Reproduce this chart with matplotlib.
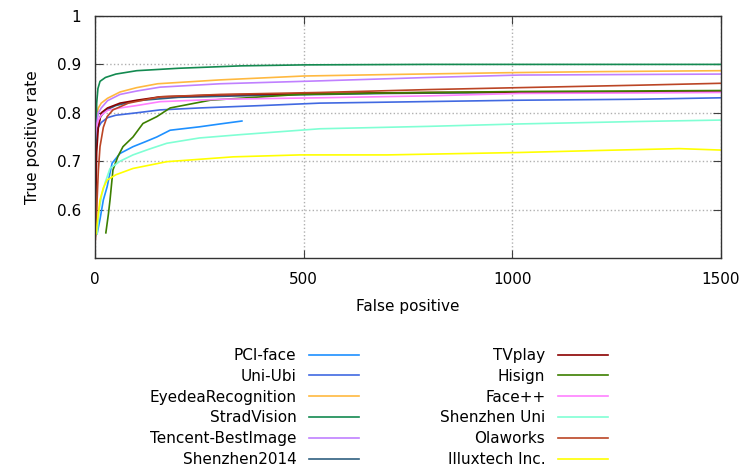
import matplotlib
matplotlib.use("Agg")
import matplotlib.pyplot as plt

plt.rcParams['font.family'] = ['DejaVu Sans']
plt.rcParams['font.size'] = 11

# ROC curves (false positives vs. true positive rate)
pci_x = [5, 12, 20, 29, 41, 60, 91, 120, 148, 180, 250, 300, 352]
pci_y = [0.55, 0.58, 0.62, 0.647, 0.696, 0.716, 0.73, 0.74, 0.75, 0.764, 0.771, 0.777, 0.783]

uni_x = [0, 3, 8, 15, 30, 50, 100, 156, 250, 400, 539, 700, 1018, 1300, 1500]
uni_y = [0.70, 0.75, 0.77, 0.78, 0.79, 0.795, 0.80, 0.806, 0.81, 0.815, 0.82, 0.822, 0.826, 0.828, 0.831]

eyedea_x = [0, 3, 8, 15, 30, 60, 100, 150, 300, 500, 700, 1000, 1200, 1500]
eyedea_y = [0.72, 0.79, 0.81, 0.82, 0.83, 0.843, 0.852, 0.86, 0.868, 0.876, 0.879, 0.883, 0.885, 0.887]

strad_x = [0, 2, 4, 7, 12, 25, 50, 100, 200, 350, 500, 800, 1500]
strad_y = [0.50, 0.72, 0.82, 0.85, 0.865, 0.873, 0.88, 0.887, 0.892, 0.897, 0.899, 0.9, 0.9]

tencent_x = [0, 3, 8, 15, 30, 60, 100, 156, 300, 539, 800, 1018, 1500]
tencent_y = [0.73, 0.77, 0.80, 0.81, 0.825, 0.838, 0.845, 0.853, 0.86, 0.866, 0.873, 0.878, 0.880]

shz2014_x = [0, 5, 12, 25, 50, 100, 200, 400, 700, 1000, 1500]
shz2014_y = [0.66, 0.76, 0.79, 0.805, 0.815, 0.825, 0.832, 0.836, 0.84, 0.842, 0.844]

tvplay_x = [0, 2, 4, 8, 15, 30, 60, 100, 156, 300, 539, 800, 1100, 1500]
tvplay_y = [0.53, 0.62, 0.72, 0.77, 0.80, 0.81, 0.82, 0.826, 0.833, 0.837, 0.840, 0.842, 0.843, 0.843]

hisign_x = [26, 32, 36, 43, 55, 67, 91, 115, 148, 180, 276, 400, 491, 700, 1018, 1500]
hisign_y = [0.552, 0.59, 0.62, 0.682, 0.71, 0.73, 0.75, 0.778, 0.792, 0.81, 0.826, 0.833, 0.838, 0.841, 0.844, 0.846]

faceplus_x = [0, 3, 8, 15, 30, 60, 100, 156, 300, 539, 800, 1018, 1300, 1500]
faceplus_y = [0.74, 0.77, 0.785, 0.795, 0.805, 0.81, 0.815, 0.823, 0.828, 0.831, 0.835, 0.840, 0.841, 0.842]

shzuni_x = [5, 10, 16, 24, 36, 60, 91, 130, 172, 250, 350, 539, 800, 1018, 1300, 1500]
shzuni_y = [0.55, 0.60, 0.63, 0.655, 0.685, 0.70, 0.713, 0.725, 0.737, 0.748, 0.755, 0.767, 0.772, 0.777, 0.782, 0.785]

olaworks_x = [0, 3, 5, 8, 12, 20, 29, 43, 80, 156, 300, 539, 800, 1018, 1300, 1500]
olaworks_y = [0.53, 0.56, 0.62, 0.68, 0.73, 0.77, 0.792, 0.806, 0.82, 0.833, 0.838, 0.842, 0.848, 0.852, 0.857, 0.861]

illux_x = [3, 5, 7, 12, 20, 29, 50, 91, 172, 331, 491, 700, 1018, 1200, 1400, 1500]
illux_y = [0.55, 0.57, 0.585, 0.62, 0.645, 0.661, 0.672, 0.685, 0.699, 0.709, 0.713, 0.713, 0.718, 0.722, 0.726, 0.723]

series = [
    ('PCI-face', pci_x, pci_y, '#1e90ff'),
    ('Uni-Ubi', uni_x, uni_y, '#4169e1'),
    ('EyedeaRecognition', eyedea_x, eyedea_y, '#ffb940'),
    ('StradVision', strad_x, strad_y, '#138a50'),
    ('Tencent-BestImage', tencent_x, tencent_y, '#c080ff'),
    ('Shenzhen2014', shz2014_x, shz2014_y, '#306080'),
    ('TVplay', tvplay_x, tvplay_y, '#8b0000'),
    ('Hisign', hisign_x, hisign_y, '#3c7f00'),
    ('Face++', faceplus_x, faceplus_y, '#ff80ff'),
    ('Shenzhen Uni', shzuni_x, shzuni_y, '#80ffd4'),
    ('Olaworks', olaworks_x, olaworks_y, '#bb4525'),
    ('Illuxtech Inc.', illux_x, illux_y, '#ffff00'),
]

fig = plt.figure(figsize=(7.44, 4.73), dpi=100)
ax = fig.add_axes([95 / 744, 1 - 258 / 473, (721 - 95) / 744, (258 - 16) / 473])

for name, xs, ys, col in series:
    ax.plot(xs, ys, color=col, lw=1.2, label=name)

ax.set_xlim(0, 1500)
ax.set_ylim(0.5, 1.0)
ax.set_xticks([0, 500, 1000, 1500])
ax.set_yticks([0.6, 0.7, 0.8, 0.9, 1.0])
ax.set_yticklabels(['0.6', '0.7', '0.8', '0.9', '1'])
ax.grid(True, ls=':', color='#b0b0b0', lw=1)
ax.tick_params(direction='in', top=True, right=True, length=6, color='#404040',
               pad=10, labelsize=11)
for sp in ax.spines.values():
    sp.set_color('#333333')
    sp.set_linewidth(1)

ax.set_xlabel('False positive', fontsize=11, labelpad=9)
ax.set_ylabel('True positive rate', fontsize=11, labelpad=12)

handles, labels = ax.get_legend_handles_labels()
fig.legend(handles, labels, ncol=2, loc='upper right', bbox_to_anchor=(608 / 744, 1 - 348 / 473),
           frameon=False, markerfirst=False, fontsize=11, borderpad=0, borderaxespad=0,
           handlelength=3.3, handletextpad=0.8, columnspacing=5.3, labelspacing=0.38)

fig.savefig('out.png', dpi=100)
